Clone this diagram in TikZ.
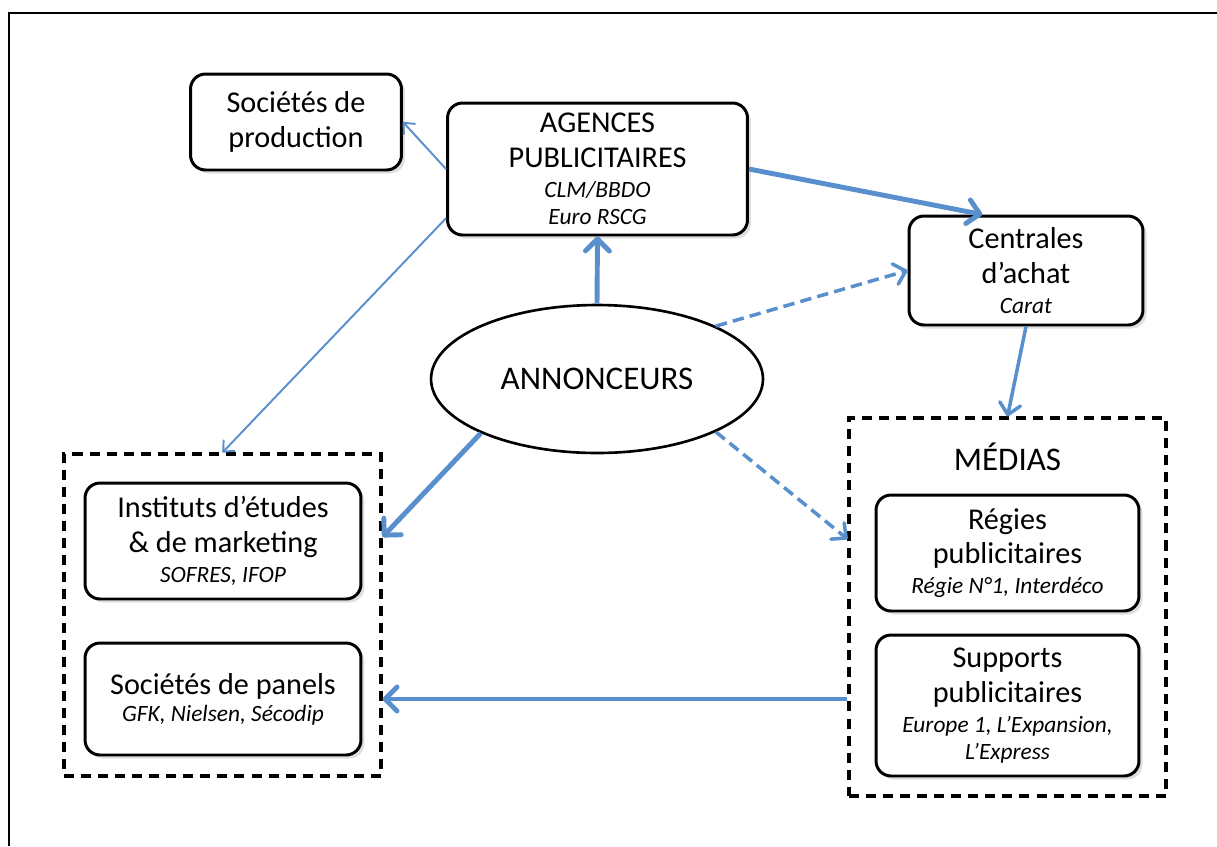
\documentclass[tikz,border=0pt]{standalone}
\usepackage{fontspec}
\setmainfont{Carlito}
\usetikzlibrary{arrows.meta}
\usetikzlibrary{shapes.geometric}
\usetikzlibrary{shadows}
\definecolor{arrowblue}{RGB}{88,143,204}
\newcommand{\detail}[1]{{\fontsize{13.3}{15.3}\selectfont\itshape #1}}

\begin{document}
\begin{tikzpicture}[x=0.02cm, y=-0.02cm,
  box/.style={draw, line width=1.7pt, rounded corners=0.3cm, fill=white, align=center, inner sep=0pt,
    drop shadow={shadow xshift=2pt, shadow yshift=-2pt, opacity=0.25},
    font=\fontsize{17.2}{19.8}\selectfont},
  group/.style={draw, line width=1.8pt, dash pattern=on 5.7pt off 4pt, inner sep=0pt},
  thinlink/.style={draw=arrowblue, line width=1.1pt, -{Straight Barb[length=0.17cm, width=0.3cm, round]}},
  midlink/.style={draw=arrowblue, line width=2pt, -{Straight Barb[length=0.22cm, width=0.42cm, round]}},
  heavylink/.style={draw=arrowblue, line width=2.8pt, -{Straight Barb[length=0.24cm, width=0.48cm, round]}},
  dashlink/.style={midlink, dash pattern=on 6.5pt off 3.5pt}]
\useasboundingbox (0,0) rectangle (1217,846);

% frame
\draw[line width=1.1pt] (9,846) -- (9,13) -- (1217,13);

% groups
{
\node[group, minimum width=6.34cm, minimum height=6.44cm] (etudes) at (222.5,615) {};
\node[group, minimum width=6.34cm, minimum height=7.56cm] (medias) at (1007.5,607) {};
\node[anchor=base, font=\fontsize{18.8}{22}\selectfont] (mediaslabel) at (1007.5,470) {MÉDIAS};
}

% boxes
{
\node[box, minimum width=4.22cm, minimum height=1.92cm] (prod) at (296,122)
  {Sociétés de\\production};
\node[box, minimum width=6cm, minimum height=2.64cm] (agences) at (597.5,169)
  {AGENCES\\PUBLICITAIRES\\[-2.8pt]\detail{CLM/BBDO}\\[-4.2pt]\detail{Euro RSCG}};
\node[box, minimum width=4.68cm, minimum height=2.18cm] (centrales) at (1026,270.5)
  {Centrales\\d’achat\\[-2.8pt]\detail{Carat}};
\node[box, minimum width=5.52cm, minimum height=2.32cm] (instituts) at (223,541)
  {Instituts d’études\\\& de marketing\\[-2.8pt]\detail{SOFRES, IFOP}};
\node[box, minimum width=5.52cm, minimum height=2.24cm] (panels) at (223,699)
  {Sociétés de panels\\[-4.5pt]\detail{GFK, Nielsen, Sécodip}};
\node[box, minimum width=5.26cm, minimum height=2.32cm] (regies) at (1007.5,553)
  {Régies\\publicitaires\\[-2.8pt]\detail{Régie N°1, Interdéco}};
\node[box, minimum width=5.26cm, minimum height=2.82cm] (supports) at (1007.5,705.5)
  {Supports\\publicitaires\\[-2.3pt]\detail{Europe 1, L’Expansion,}\\[-4.5pt]\detail{L’Express}};
}

\node[ellipse, draw, line width=1.5pt, minimum width=6.64cm, minimum height=2.96cm, inner sep=0pt,
  fill=white, font=\fontsize{18.8}{22}\selectfont] (annonceurs) at (597,379) {\raisebox{-2pt}{ANNONCEURS}};

% arrows
{
\draw[thinlink] (agences.west) -- (prod.east);
\draw[thinlink] (agences.198) -- (etudes.north);
\draw[heavylink] (annonceurs.north) -- (agences.south);
\draw[heavylink] (agences.east) -- (centrales.128);
\draw[dashlink] (annonceurs.24) -- (centrales.west);
\draw[midlink] (centrales.south) -- (medias.north);
\draw[heavylink] (annonceurs.205) -- (etudes.26);
\draw[dashlink] (annonceurs.-24) -- (medias.157);
\draw[heavylink] (medias.west |- panels) -- (etudes.east |- panels);
}
\end{tikzpicture}
\end{document}
